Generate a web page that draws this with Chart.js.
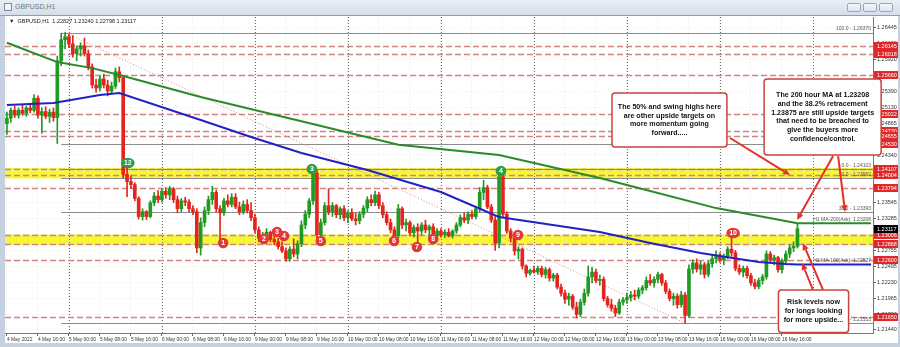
<!DOCTYPE html>
<html><head><meta charset="utf-8">
<script src="https://cdn.jsdelivr.net/npm/chart.js@4.4.1/dist/chart.umd.min.js"></script>
<style>
html,body{margin:0;padding:0;}
body{width:900px;height:347px;overflow:hidden;background:#c5d1de;position:relative;font-family:'Liberation Sans',Arial,sans-serif;}
#tb{position:absolute;left:0;top:0;width:900px;height:16px;background:linear-gradient(#e9eef4,#d4dee9);border-bottom:1px solid #8f9cab;box-sizing:border-box;}
#tbt{position:absolute;left:15px;top:3px;font-size:7px;color:#6d7989;}
#ic{position:absolute;left:4px;top:3px;width:8px;height:8px;border:1px solid #7d8b9c;background:#f2f5f8;box-sizing:border-box;}
.btn{position:absolute;top:3px;width:14px;height:9px;border:1px solid #9aa7b6;border-radius:2px;background:linear-gradient(#f6f8fb,#dde5ee);box-sizing:border-box;}
#cv{position:absolute;left:5px;top:16px;}
</style></head><body>
<div id="tb"><div id="ic"></div><div id="tbt">GBPUSD,H1</div>
<div class="btn" style="left:847px"></div><div class="btn" style="left:863px"></div><div class="btn" style="left:879px"></div></div>
<canvas id="cv" width="893" height="327"></canvas>
<script>
// ---------- DATA ----------
const dayNames = ['4 May','5 May','6 May','9 May','10 May','11 May','12 May','13 May','16 May'];
const firstHour = 8;
const shiftBars = 19;
const open  = [1.2486,1.2495,1.2508,1.2500,1.2508,1.2503,1.2512,1.2508,1.2528,1.2500,1.2506,1.2498,1.2505,1.2496,1.2590,1.2625,1.2630,1.2618,1.2602,1.2610,1.2615,1.2602,1.2580,1.2550,1.2545,1.2560,1.2550,1.2540,1.2548,1.2572,1.2562,1.2402,1.2390,1.2385,1.2362,1.2332,1.2340,1.2332,1.2355,1.2366,1.2360,1.2374,1.2368,1.2378,1.2360,1.2345,1.2358,1.2356,1.2345,1.2340,1.2280,1.2322,1.2342,1.2360,1.2372,1.2345,1.2338,1.2358,1.2352,1.2364,1.2348,1.2340,1.2352,1.2342,1.2330,1.2310,1.2296,1.2300,1.2306,1.2294,1.2290,1.2282,1.2275,1.2262,1.2278,1.2270,1.2287,1.2318,1.2336,1.2358,1.2404,1.2302,1.2322,1.2350,1.2340,1.2350,1.2335,1.2345,1.2330,1.2338,1.2328,1.2325,1.2336,1.2346,1.2360,1.2355,1.2368,1.2350,1.2335,1.2322,1.2310,1.2300,1.2345,1.2318,1.2322,1.2305,1.2314,1.2308,1.2318,1.2310,1.2315,1.2300,1.2308,1.2302,1.2306,1.2300,1.2308,1.2318,1.2330,1.2326,1.2336,1.2332,1.2345,1.2372,1.2380,1.2348,1.2326,1.2288,1.2398,1.2336,1.2308,1.2296,1.2275,1.2278,1.2250,1.2238,1.2243,1.2240,1.2246,1.2236,1.2244,1.2230,1.2235,1.2215,1.2205,1.2195,1.2200,1.2182,1.2170,1.2190,1.2205,1.2232,1.2240,1.2226,1.2228,1.2196,1.2186,1.2180,1.2172,1.2190,1.2194,1.2198,1.2202,1.2200,1.2210,1.2214,1.2226,1.2222,1.2228,1.2236,1.2222,1.2208,1.2196,1.2200,1.2186,1.2202,1.2168,1.2245,1.2255,1.2245,1.2252,1.2236,1.2254,1.2262,1.2268,1.2260,1.2266,1.2278,1.2272,1.2246,1.2240,1.2246,1.2234,1.2222,1.2216,1.2226,1.2232,1.2270,1.2260,1.2264,1.2244,1.2258,1.2270,1.2280,1.22827];
const high  = [1.2505,1.2512,1.2515,1.2512,1.2518,1.2515,1.2520,1.2534,1.2532,1.2512,1.2514,1.2510,1.2512,1.2598,1.2636,1.2637,1.2634,1.2632,1.2615,1.2620,1.2628,1.2608,1.2585,1.2560,1.2565,1.2568,1.2558,1.2555,1.2578,1.2580,1.2566,1.2418,1.2400,1.2388,1.2365,1.2345,1.2342,1.2358,1.2372,1.2375,1.2378,1.2380,1.2382,1.2380,1.2366,1.2362,1.2364,1.2360,1.2350,1.2345,1.2330,1.2348,1.2366,1.2382,1.2376,1.2350,1.2362,1.2368,1.2370,1.2370,1.2356,1.2358,1.2360,1.2355,1.2336,1.2315,1.2306,1.2312,1.2308,1.2302,1.2296,1.2290,1.2280,1.2282,1.2295,1.2292,1.2325,1.2342,1.2362,1.2416,1.2410,1.2328,1.2355,1.2378,1.2355,1.2352,1.2348,1.2350,1.2342,1.2345,1.2338,1.2340,1.2350,1.2365,1.2368,1.2374,1.2372,1.2355,1.2340,1.2328,1.2315,1.2352,1.2348,1.2328,1.2325,1.2318,1.2320,1.2322,1.2326,1.2318,1.2320,1.2312,1.2312,1.2310,1.2312,1.2310,1.2322,1.2335,1.2338,1.2340,1.2342,1.2348,1.2380,1.2392,1.2384,1.2352,1.2332,1.2407,1.2404,1.2340,1.2312,1.2300,1.2282,1.2280,1.2252,1.2245,1.2250,1.2250,1.2250,1.2248,1.2247,1.2238,1.2238,1.2220,1.2210,1.2205,1.2203,1.2190,1.2195,1.2212,1.2250,1.2248,1.2245,1.2235,1.2232,1.2200,1.2195,1.2185,1.2195,1.2198,1.2205,1.2208,1.2210,1.2214,1.2218,1.2232,1.2236,1.2232,1.2240,1.2238,1.2226,1.2212,1.2205,1.2204,1.2208,1.2206,1.2252,1.2260,1.2262,1.2258,1.2256,1.2258,1.2268,1.2275,1.2272,1.2270,1.2282,1.2298,1.2276,1.2252,1.2250,1.2250,1.2238,1.2228,1.2230,1.2236,1.2275,1.2274,1.2268,1.2266,1.2262,1.2275,1.2285,1.2290,1.2320];
const low   = [1.2468,1.2488,1.2496,1.2495,1.2500,1.2498,1.2504,1.2505,1.2495,1.2470,1.2494,1.2488,1.2490,1.2453,1.2582,1.2610,1.2612,1.2596,1.2590,1.2598,1.2598,1.2575,1.2545,1.2538,1.2540,1.2545,1.2532,1.2535,1.2544,1.2555,1.2396,1.2365,1.2378,1.2358,1.2328,1.2326,1.2327,1.2330,1.2350,1.2355,1.2356,1.2362,1.2360,1.2355,1.2338,1.2340,1.2350,1.2340,1.2335,1.2272,1.2268,1.2315,1.2335,1.2352,1.2340,1.2292,1.2334,1.2348,1.2348,1.2345,1.2335,1.2336,1.2338,1.2325,1.2305,1.2290,1.2288,1.2292,1.2290,1.2285,1.2278,1.2272,1.2258,1.2258,1.2265,1.2262,1.2282,1.2312,1.2330,1.2352,1.2296,1.2292,1.2318,1.2335,1.2332,1.2330,1.2328,1.2325,1.2322,1.2325,1.2318,1.2320,1.2330,1.2340,1.2350,1.2350,1.2345,1.2330,1.2318,1.2305,1.2293,1.2296,1.2312,1.2308,1.2300,1.2298,1.2285,1.2302,1.2305,1.2298,1.2293,1.2296,1.2298,1.2297,1.2298,1.2296,1.2304,1.2315,1.2322,1.2320,1.2328,1.2328,1.2340,1.2360,1.2345,1.2322,1.2276,1.2280,1.2330,1.2304,1.2290,1.2268,1.2262,1.2245,1.2232,1.2235,1.2238,1.2236,1.2232,1.2230,1.2225,1.2225,1.2212,1.2200,1.2188,1.2185,1.2178,1.2164,1.2166,1.2185,1.2200,1.2222,1.2222,1.2218,1.2192,1.2182,1.2175,1.2166,1.2170,1.2185,1.2188,1.2192,1.2194,1.2196,1.2204,1.2210,1.2218,1.2215,1.2222,1.2218,1.2204,1.2192,1.2185,1.2180,1.2182,1.2155,1.2165,1.2238,1.2240,1.2236,1.2230,1.2232,1.2248,1.2255,1.2256,1.2252,1.2262,1.2266,1.2242,1.2236,1.2232,1.2230,1.2218,1.2212,1.2212,1.2220,1.2228,1.2255,1.2252,1.2240,1.2238,1.2252,1.2264,1.2274,1.22798];
const close = [1.2495,1.2508,1.2500,1.2508,1.2503,1.2512,1.2508,1.2528,1.2500,1.2506,1.2498,1.2505,1.2496,1.2590,1.2625,1.2630,1.2618,1.2602,1.2610,1.2615,1.2602,1.2580,1.2550,1.2545,1.2560,1.2550,1.2540,1.2548,1.2572,1.2562,1.2402,1.2390,1.2385,1.2362,1.2332,1.2340,1.2332,1.2355,1.2366,1.2360,1.2374,1.2368,1.2378,1.2360,1.2345,1.2358,1.2356,1.2345,1.2340,1.2280,1.2322,1.2342,1.2360,1.2372,1.2345,1.2338,1.2358,1.2352,1.2364,1.2348,1.2340,1.2352,1.2342,1.2330,1.2310,1.2296,1.2300,1.2306,1.2294,1.2290,1.2282,1.2275,1.2262,1.2278,1.2270,1.2287,1.2318,1.2336,1.2358,1.2404,1.2302,1.2322,1.2350,1.2340,1.2350,1.2335,1.2345,1.2330,1.2338,1.2328,1.2325,1.2336,1.2346,1.2360,1.2355,1.2368,1.2350,1.2335,1.2322,1.2310,1.2300,1.2345,1.2318,1.2322,1.2305,1.2314,1.2308,1.2318,1.2310,1.2315,1.2300,1.2308,1.2302,1.2306,1.2300,1.2308,1.2318,1.2330,1.2326,1.2336,1.2332,1.2345,1.2372,1.2380,1.2348,1.2326,1.2288,1.2398,1.2336,1.2308,1.2296,1.2275,1.2278,1.2250,1.2238,1.2243,1.2240,1.2246,1.2236,1.2244,1.2230,1.2235,1.2215,1.2205,1.2195,1.2200,1.2182,1.2170,1.2190,1.2205,1.2232,1.2240,1.2226,1.2228,1.2196,1.2186,1.2180,1.2172,1.2190,1.2194,1.2198,1.2202,1.2200,1.2210,1.2214,1.2226,1.2222,1.2228,1.2236,1.2222,1.2208,1.2196,1.2200,1.2186,1.2202,1.2168,1.2245,1.2255,1.2245,1.2252,1.2236,1.2254,1.2262,1.2268,1.2260,1.2266,1.2278,1.2272,1.2246,1.2240,1.2246,1.2234,1.2222,1.2216,1.2226,1.2232,1.2270,1.2260,1.2264,1.2244,1.2258,1.2270,1.2280,1.22827,1.23117];

const ma200Bars = [0,13,22,30,50,76,101,127,153,162,183,204,223];
const ma200Vals = [1.2620,1.2588,1.2578,1.2565,1.2530,1.2490,1.2451,1.2434,1.2396,1.2381,1.2346,1.23208,1.23208];
const ma100Bars = [0,12,24,29,50,63,76,93,112,127,153,166,179,194,201,204,223];
const ma100Vals = [1.25169,1.25202,1.25334,1.25368,1.24920,1.24638,1.24373,1.24091,1.23727,1.23312,1.23064,1.22882,1.22716,1.22567,1.22534,1.22527,1.22527];

const yTicks = [1.26445,1.26182,1.25920,1.25655,1.25390,1.25130,1.24865,1.24600,1.24340,1.24075,1.23810,1.23545,1.23285,1.23020,1.22755,1.22495,1.22230,1.21965,1.21700,1.21440];
const yMin = 1.21390, yMax = 1.26627;

const redLevels = [1.26145,1.26018,1.25660,1.25022,1.24730,1.24655,1.24107,1.24004,1.23794,1.23006,1.22868,1.22600,1.21650];
const redLabelOnly = [1.24530];
const zones = [[1.24125,1.23950],[1.23023,1.22849]];
const fibStartBar = 14;
const fibLevels = [1.26370,1.24530,1.24103,1.23962,1.23393,1.21553];
const objLabels = [[1.26370,'100.0 - 1.26370'],[1.24103,'0.0 - 1.24103'],[1.23962,'50.0 - 1.23962'],[1.23393,'38.2 - 1.23393'],[1.23208,'H1 MA-200(Ask): 1.23208'],[1.22527,'H1 MA-100(Ask): 1.22527'],[1.21553,'0.0 - 1.21553']];
const trendFrom = [15,1.26370], trendTo = [175,1.21553];
const lastPrice = 1.23117;
const headerText = '\u25BC  GBPUSD,H1  1.22827 1.23240 1.22798 1.23117';

const greenMarks = [[31.2,1.24207,'12'],[78.7,1.24108,'3'],[127.5,1.24075,'4']];
const redMarks = [[55.8,1.22882,'1'],[66.3,1.22948,'2'],[69.7,1.23064,'3'],[71.5,1.22998,'4'],[81.0,1.22915,'5'],[99.9,1.22915,'6'],[105.8,1.22815,'7'],[110.0,1.22948,'8'],[131.9,1.23014,'9'],[187.4,1.23047,'10']];

const boxes = [
 {b1:156.15,b2:185.8,p1:1.25367,p2:1.24473,lines:['The 50% and swing highs here','are other upside targets on','more momentum going','forward.....']},
 {b1:195.4,b2:225.6,p1:1.25599,p2:1.24340,lines:['The 200 hour MA at 1.23208','and the 38.2% retracement','1.23875 are still upside targets','that need to be breached to','give the buyers more','confidence/control.']},
 {b1:199.1,b2:217.2,p1:1.22103,p2:1.21400,lines:['Risk levels now','for longs looking','for more upside...']}
];
const arrows = [
 [[186.6,1.24622],[202.1,1.24008]],
 [[213.2,1.24323],[203.9,1.23263]],
 [[214.5,1.24323],[216.3,1.23395]],
 [[208.0,1.22103],[205.2,1.22550]],
 [[210.6,1.22103],[205.4,1.22882]]
];

// ---------- BUILD ----------
const BULL='#1f9a22', BEAR='#e5241f';
const nBars = open.length;
const categories=[], tickText=[], dayStart=[];
{let d=0,h=firstHour;
 for(let i=0;i<nBars;i++){
   const hh=String(h).padStart(2,'0')+':00';
   categories.push(dayNames[d]+' '+hh);
   tickText.push(i===0?'4 May 2022':(h%8===0?dayNames[d]+' '+hh:''));
   if(h===0) dayStart.push(i);
   h++; if(h===24){h=0;d++;}
 }
 dayStart.push(nBars + (24-h)%24);
}
for(let i=0;i<shiftBars;i++){categories.push('');tickText.push('');}
const N = categories.length;
const pad = a => a.concat(Array(N-a.length).fill(null));
const wicks = pad(high.map((h,i)=>[low[i],h]));
const bodies = pad(open.map((o,i)=>[o,close[i]]));
const cols = pad(open.map((o,i)=>close[i]>=o?BULL:BEAR));
function sparse(bars,vals){const a=Array(N).fill(null);bars.forEach((b,i)=>a[b]=vals[i]);return a;}

const FONT='"Liberation Sans", Arial, sans-serif';
const plug = {
 id:'mt4',
 beforeDraw(chart){
  const {ctx,chartArea:a,scales:{x,y}}=chart;
  ctx.save();
  ctx.fillStyle='#fff';ctx.fillRect(0,0,chart.width,chart.height);
  ctx.fillStyle='#f7f73a';
  zones.forEach(([p1,p2])=>{const y1=y.getPixelForValue(p1),y2=y.getPixelForValue(p2);ctx.fillRect(a.left,y1,a.right-a.left,y2-y1);});
  ctx.restore();
 },
 beforeDatasetsDraw(chart){
  const {ctx,chartArea:a,scales:{x,y}}=chart;
  ctx.save();
  ctx.beginPath();ctx.rect(a.left,a.top,a.right-a.left,a.bottom-a.top);ctx.clip();
  ctx.strokeStyle='#6a6a6a';ctx.lineWidth=1;ctx.setLineDash([1,2]);
  dayStart.forEach(b=>{const px=Math.round(x.getPixelForValue(b))+0.5;ctx.beginPath();ctx.moveTo(px,a.top);ctx.lineTo(px,a.bottom);ctx.stroke();});
  ctx.strokeStyle='#d08585';ctx.lineWidth=1.3;ctx.setLineDash([6,3]);
  redLevels.forEach(p=>{const py=Math.round(y.getPixelForValue(p))+0.5;ctx.beginPath();ctx.moveTo(a.left,py);ctx.lineTo(a.right,py);ctx.stroke();});
  ctx.setLineDash([]);ctx.strokeStyle='#8c8c8c';ctx.lineWidth=1;
  const fx=x.getPixelForValue(fibStartBar);
  fibLevels.forEach(p=>{const py=Math.round(y.getPixelForValue(p))+0.5;ctx.beginPath();ctx.moveTo(fx,py);ctx.lineTo(a.right,py);ctx.stroke();});
  ctx.strokeStyle='#d38b8b';ctx.setLineDash([1,2]);
  ctx.beginPath();ctx.moveTo(x.getPixelForValue(trendFrom[0]),y.getPixelForValue(trendFrom[1]));ctx.lineTo(x.getPixelForValue(trendTo[0]),y.getPixelForValue(trendTo[1]));ctx.stroke();
  ctx.restore();
 },
 afterDatasetsDraw(chart){
  const {ctx,chartArea:a,scales:{x,y}}=chart;
  ctx.save();
  const mark=(b,p,t,c)=>{const px=x.getPixelForValue(b),py=y.getPixelForValue(p);const rx=t.length>1?6.8:5.3;
    ctx.beginPath();ctx.ellipse(px,py,rx,5.3,0,0,Math.PI*2);ctx.fillStyle=c;ctx.fill();
    ctx.fillStyle='#fff';ctx.font='bold 7px '+FONT;ctx.textAlign='center';ctx.textBaseline='middle';ctx.fillText(t,px,py+0.5);};
  greenMarks.forEach(m=>mark(m[0],m[1],m[2],'#2e9c48'));
  redMarks.forEach(m=>mark(m[0],m[1],m[2],'#e2383a'));
  ctx.font='5px '+FONT;ctx.fillStyle='#555';ctx.textAlign='right';ctx.textBaseline='bottom';
  objLabels.forEach(([p,t])=>{ctx.fillText(t,a.right-2,y.getPixelForValue(p)-1);});
  ctx.textAlign='left';ctx.textBaseline='middle';ctx.font='5.5px '+FONT;
  const lab=(p,bg)=>{const py=Math.round(y.getPixelForValue(p));ctx.fillStyle=bg;ctx.fillRect(a.right+1,py-4,chart.width-a.right-1,8);ctx.fillStyle='#fff';ctx.fillText(p.toFixed(5),a.right+4,py+0.5);};
  redLevels.concat(redLabelOnly).forEach(p=>lab(p,'#e0282a'));
  lab(lastPrice,'#000');
  ctx.fillStyle='#222';ctx.font='5.5px '+FONT;ctx.textAlign='left';ctx.textBaseline='middle';
  ctx.fillText(headerText,4,5);
  ctx.strokeStyle='#e0332c';ctx.fillStyle='#e0332c';ctx.lineWidth=2;
  arrows.forEach(([f,t])=>{const x1=x.getPixelForValue(f[0]),y1=y.getPixelForValue(f[1]),x2=x.getPixelForValue(t[0]),y2=y.getPixelForValue(t[1]);
    const ang=Math.atan2(y2-y1,x2-x1),L=7,W=3.2;const bx=x2-L*Math.cos(ang),by=y2-L*Math.sin(ang);
    ctx.beginPath();ctx.moveTo(x1,y1);ctx.lineTo(bx,by);ctx.stroke();
    ctx.beginPath();ctx.moveTo(x2,y2);ctx.lineTo(bx+W*Math.sin(ang),by-W*Math.cos(ang));ctx.lineTo(bx-W*Math.sin(ang),by+W*Math.cos(ang));ctx.closePath();ctx.fill();});
  boxes.forEach(bx=>{const x1=x.getPixelForValue(bx.b1),x2=x.getPixelForValue(bx.b2),y1=y.getPixelForValue(bx.p1),y2=y.getPixelForValue(bx.p2);
    ctx.beginPath();ctx.roundRect(x1,y1,x2-x1,y2-y1,3);ctx.fillStyle='#fff';ctx.fill();ctx.lineWidth=1.5;ctx.strokeStyle='#c8433a';ctx.stroke();
    ctx.fillStyle='#111';ctx.font='bold 7.1px '+FONT;ctx.textAlign='center';ctx.textBaseline='middle';
    const lh=8.8,cy=(y1+y2)/2,n=bx.lines.length;
    bx.lines.forEach((t,i)=>ctx.fillText(t,(x1+x2)/2,cy+(i-(n-1)/2)*lh));});
  ctx.restore();
 }
};

new Chart(document.getElementById('cv'),{
 type:'bar',
 data:{labels:categories,datasets:[
  {type:'line',data:sparse(ma200Bars,ma200Vals),borderColor:'#2a8a2a',borderWidth:2,pointRadius:0,spanGaps:true,order:0},
  {type:'line',data:sparse(ma100Bars,ma100Vals),borderColor:'#2222c4',borderWidth:2,pointRadius:0,spanGaps:true,order:0},
  {data:bodies,backgroundColor:cols,barThickness:3,minBarLength:1,grouped:false,order:1},
  {data:wicks,backgroundColor:cols,barThickness:1,grouped:false,order:2}
 ]},
 plugins:[plug],
 options:{
  responsive:false,animation:false,devicePixelRatio:1,
  layout:{padding:{top:1,left:0,right:0,bottom:0},autoPadding:false},
  plugins:{legend:{display:false},tooltip:{enabled:false}},
  scales:{
   x:{type:'category',offset:true,
      grid:{offset:false,color:c=>tickText[c.index]?'#e9e9e9':'rgba(0,0,0,0)',tickColor:c=>tickText[c.index]?'#666':'rgba(0,0,0,0)',tickLength:3},
      border:{color:'#777',dash:[1,2]},
      ticks:{autoSkip:false,maxRotation:0,minRotation:0,align:'start',padding:1,color:'#333',font:{size:4.9,family:FONT},callback:(v,i)=>tickText[i]},
      afterFit(s){s.height=10;s.paddingLeft=0;s.paddingRight=0;}},
   y:{position:'right',min:yMin,max:yMax,
      afterBuildTicks(s){s.ticks=yTicks.map(v=>({value:v}));},
      grid:{color:'#ececec',tickColor:'#666',tickLength:3},
      border:{color:'#777',dash:[1,2]},
      ticks:{padding:1,color:'#333',font:{size:5.5,family:FONT},callback:v=>Number(v).toFixed(5)},
      afterFit(s){s.width=25;s.paddingTop=0;s.paddingBottom=0;}}
  }
 }
});
</script>
</body></html>
